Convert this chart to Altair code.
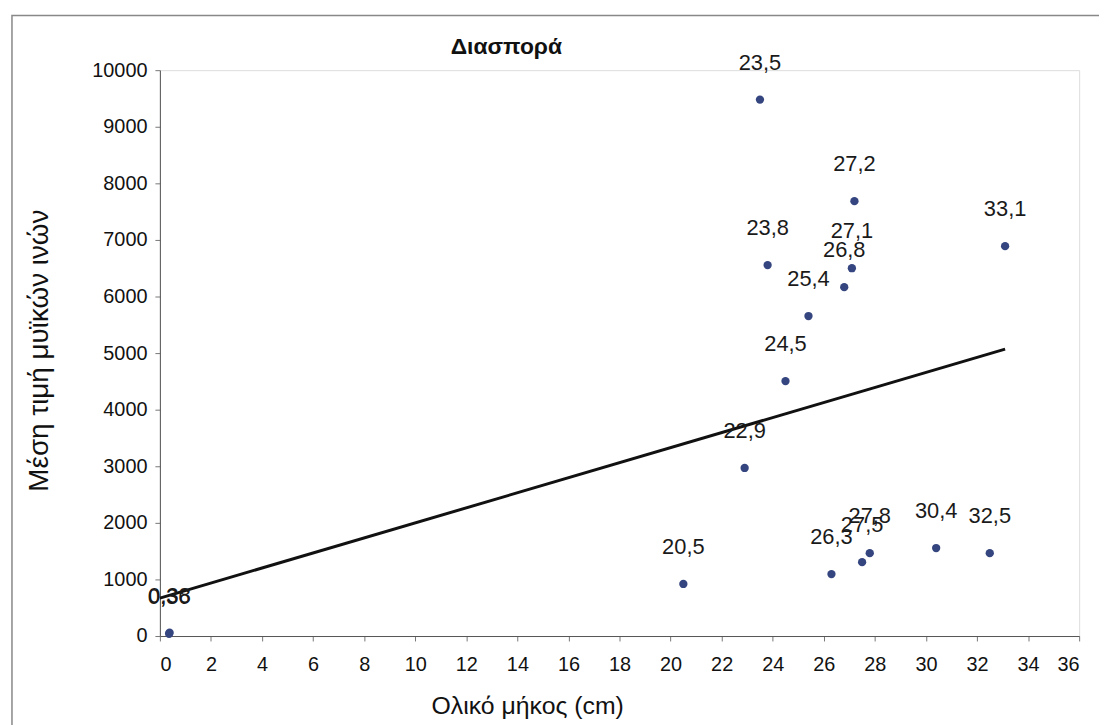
import altair as alt
import pandas as pd

# data
length_cm = [0.38, 0.36, 20.5, 22.9, 23.5, 23.8, 24.5, 25.4, 26.3, 26.8,
             27.1, 27.2, 27.5, 27.8, 30.4, 32.5, 33.1]
mean_fibre = [60, 40, 920, 2970, 9480, 6555, 4505, 5655, 1095, 6165,
              6500, 7685, 1305, 1465, 1555, 1465, 6890]
labels = ["0,38", "0,36", "20,5", "22,9", "23,5", "23,8", "24,5", "25,4", "26,3", "26,8",
          "27,1", "27,2", "27,5", "27,8", "30,4", "32,5", "33,1"]

trend_x = [0, 33.1]
trend_y = [670, 5070]

chart_title = ["Διασπορά"]

FONT = "Liberation Sans"

df = pd.DataFrame({"x": length_cm, "y": mean_fibre, "lab": labels})
tr = pd.DataFrame({"x": trend_x, "y": trend_y})

xscale = alt.Scale(domain=[0, 36], nice=False, zero=False)
yscale = alt.Scale(domain=[0, 10000], nice=False)

xaxis = alt.Axis(values=list(range(0, 37, 2)), format="d", title="Ολικό μήκος (cm)",
                 grid=False, labelFontSize=20, titleFontSize=25, titleFontWeight="normal",
                 labelFont=FONT, titleFont=FONT, tickSize=5, domainColor="#555",
                 tickColor="#777", labelColor="#111", titleColor="#111",
                 labelPadding=14, titleX=370, titleY=70, titleBaseline="middle",
                 titleAnchor="middle", titleAlign="center")
yaxis = alt.Axis(values=list(range(0, 10001, 500)), format="d", title="Μέση τιμή μυϊκών ινών",
                 grid=False, labelFontSize=20, titleFontSize=28, titleFontWeight="normal",
                 labelFont=FONT, titleFont=FONT, tickSize=5, domainColor="#555",
                 tickColor="#777", labelColor="#111", titleColor="#111",
                 labelPadding=8, titleX=-121, titleY=282, titleBaseline="middle",
                 titleAnchor="middle", titleAlign="center")

base = alt.Chart(df)

frame = alt.Chart(pd.DataFrame({"a": [0]})).mark_rect(
    fill=None, stroke="#888", strokeWidth=1.5, clip=False
).encode(x=alt.value(-149), x2=alt.value(1000), y=alt.value(-55), y2=alt.value(700))

title_mark = alt.Chart(pd.DataFrame({"t": chart_title})).mark_text(
    font=FONT, fontSize=23, fontWeight="bold", color="#111", baseline="middle", align="center"
).encode(x=alt.value(349), y=alt.value(-23), text="t:N")

pts = base.mark_circle(size=70, color="#34457f", opacity=1).encode(
    x=alt.X("x:Q", scale=xscale, axis=xaxis),
    y=alt.Y("y:Q", scale=yscale, axis=yaxis),
)

txt = base.mark_text(fontSize=22, font=FONT, color="#1a1a1a", dy=-37).encode(
    x=alt.X("x:Q", scale=xscale),
    y=alt.Y("y:Q", scale=yscale),
    text="lab:N",
)

line = alt.Chart(tr).mark_line(color="#111", strokeWidth=3).encode(
    x=alt.X("x:Q", scale=xscale),
    y=alt.Y("y:Q", scale=yscale),
)

chart = alt.layer(frame, title_mark, pts, line, txt).properties(
    width=926, height=570,
    autosize=alt.AutoSizeParams(type="none"),
    padding={"left": 153, "top": 60, "right": 20, "bottom": 87},
).configure_view(stroke="#aaa", strokeWidth=1.5).configure(background="white")

chart.save("out.html", embed_options={"renderer": "svg", "actions": False})
